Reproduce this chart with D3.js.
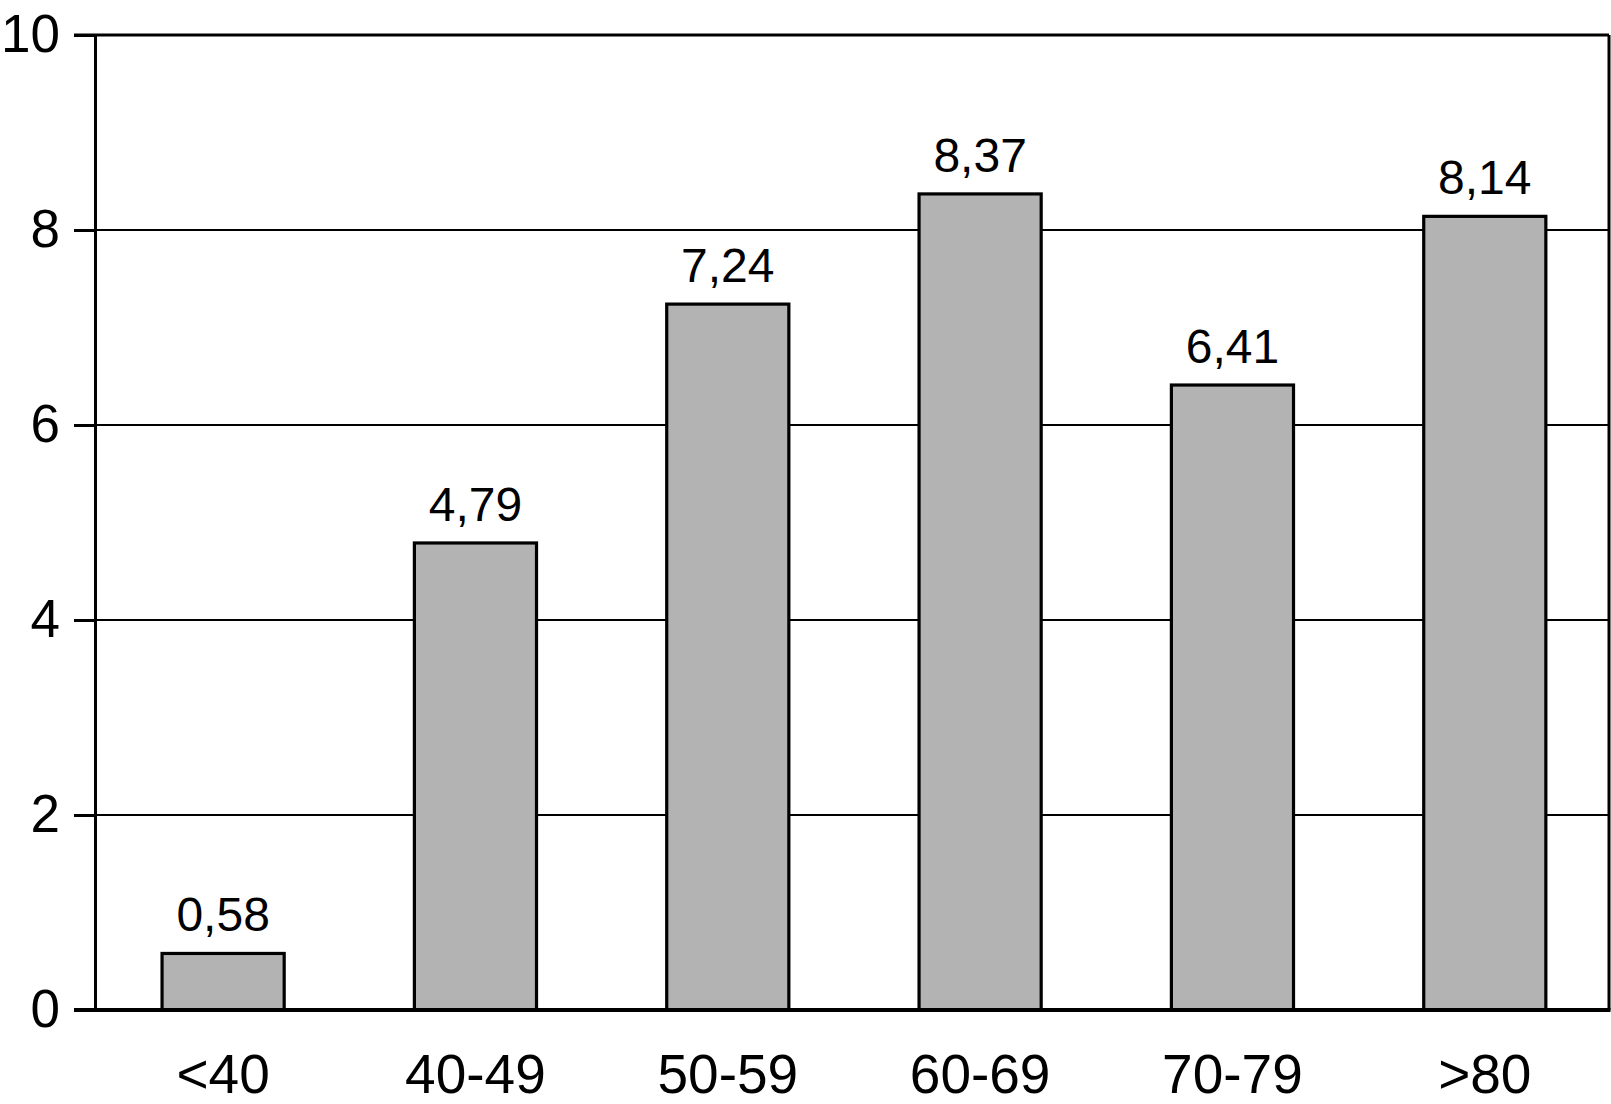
<!DOCTYPE html>
<html><head><meta charset="utf-8">
<script src="https://cdn.jsdelivr.net/npm/d3@7"></script>
<style>html,body{margin:0;padding:0;background:#fff;}svg{display:block;}</style>
</head><body>
<svg id="c" width="1611" height="1104"></svg>
<script>
const categories = ["<40", "40-49", "50-59", "60-69", "70-79", ">80"];
const values = [0.58, 4.79, 7.24, 8.37, 6.41, 8.14];
const valueLabels = ["0,58", "4,79", "7,24", "8,37", "6,41", "8,14"];
const yTicks = [0, 2, 4, 6, 8, 10];

const svg = d3.select("#c");
const m = {left: 95, right: 1609, top: 35, bottom: 1010};
const font = "'Liberation Sans', Arial, Helvetica, sans-serif";

const x = d3.scaleBand().domain(categories).range([m.left, m.right]).paddingInner(0.516).paddingOuter(0.258).align(0.515);
const y = d3.scaleLinear().domain([0, 10]).range([m.bottom, m.top]);

// gridlines
svg.append("g").selectAll("line").data(yTicks.filter(d => d > 0 && d < 10)).join("line")
  .attr("x1", m.left).attr("x2", m.right)
  .attr("y1", d => y(d)).attr("y2", d => y(d))
  .attr("stroke", "#000").attr("stroke-width", 2);

// bars
svg.append("g").selectAll("rect").data(values).join("rect")
  .attr("x", (d, i) => x(categories[i]))
  .attr("y", d => y(d))
  .attr("width", x.bandwidth())
  .attr("height", d => y(0) - y(d))
  .attr("fill", "#b3b3b3").attr("stroke", "#000").attr("stroke-width", 3.2);

// value labels
svg.append("g").selectAll("text").data(values).join("text")
  .attr("x", (d, i) => x(categories[i]) + x.bandwidth() / 2)
  .attr("y", d => y(d) - 22)
  .attr("text-anchor", "middle")
  .attr("font-family", font).attr("font-size", 48)
  .text((d, i) => valueLabels[i]);

// frame: top and right
svg.append("line").attr("x1", m.left - 21).attr("x2", m.right).attr("y1", y(10)).attr("y2", y(10))
  .attr("stroke", "#000").attr("stroke-width", 3);
svg.append("line").attr("x1", m.right).attr("x2", m.right).attr("y1", y(10)).attr("y2", y(0))
  .attr("stroke", "#000").attr("stroke-width", 3);

// y axis
const yAxis = d3.axisLeft(y).tickValues(yTicks).tickSize(21).tickPadding(14).tickFormat(d3.format("d"));
const ga = svg.append("g").attr("transform", `translate(${m.left},0)`).call(yAxis);
ga.select(".domain").attr("stroke-width", 3);
ga.selectAll(".tick line").attr("stroke-width", 3);
ga.selectAll(".tick text").attr("font-family", font).attr("font-size", 53).attr("fill", "#000");

// x axis
const xAxis = d3.axisBottom(x).tickSize(0).tickPadding(44);
const gx = svg.append("g").attr("transform", `translate(0,${m.bottom})`).call(xAxis);
gx.select(".domain").remove();
svg.append("line").attr("x1", m.left - 21).attr("x2", m.right + 1.5).attr("y1", y(0)).attr("y2", y(0))
  .attr("stroke", "#000").attr("stroke-width", 4);
gx.selectAll(".tick text").attr("font-family", font).attr("font-size", 55).attr("fill", "#000");
</script>
</body></html>
